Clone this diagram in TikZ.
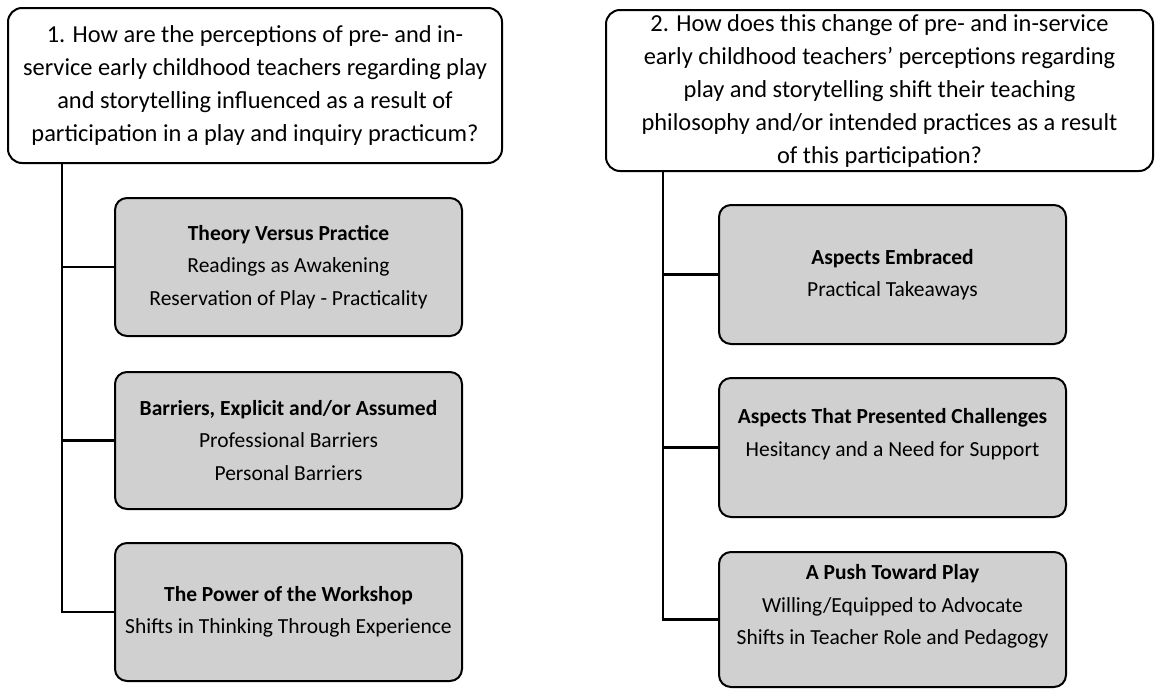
\documentclass[tikz,border=0pt]{standalone}
\usepackage{fontspec}
\setmainfont{Carlito}
\definecolor{boxgray}{RGB}{208,208,208}
\begin{document}
\begin{tikzpicture}[x=1pt,y=-1pt,
  qbox/.style={draw=black, line width=2pt, fill=white, rounded corners=14pt,
    align=center, inner sep=0pt, font=\fontsize{24.4}{33}\selectfont},
  tbox/.style={draw=black, line width=2pt, fill=boxgray, rounded corners=12pt,
    align=center, inner sep=0pt, minimum width=347pt, font=\fontsize{21.5}{32.5}\selectfont},
  conn/.style={draw=black, line width=2.2pt}]
\useasboundingbox (0,0) rectangle (1155,688);

\node[qbox, minimum width=494pt, minimum height=155pt] (q1) at (255,85.5)
  {1. How are the perceptions of pre- and in-\\
   service early childhood teachers regarding play\\
   and storytelling influenced as a result of\\
   participation in a play and inquiry practicum?};
\node[qbox, minimum width=547pt, minimum height=161pt] (q2) at (879.5,90.5)
  {2. How does this change of pre- and in-service\\
   early childhood teachers’ perceptions regarding\\
   play and storytelling shift their teaching\\
   philosophy and/or intended practices as a result\\
   of this participation?};

\node[tbox, minimum height=138pt] (a) at (288.5,267)
  {\textbf{Theory Versus Practice}\\ Readings as Awakening\\ Reservation of Play - Practicality};
\node[tbox, minimum height=137pt] (b) at (288.5,440.5)
  {\textbf{Barriers, Explicit and/or Assumed}\\ Professional Barriers\\ Personal Barriers};
\node[tbox, minimum height=138pt] (c) at (288.5,612)
  {\textbf{The Power of the Workshop}\\ Shifts in Thinking Through Experience};

\node[tbox, minimum height=139pt] (d) at (892.5,274.5)
  {\textbf{Aspects Embraced}\\ Practical Takeaways};
\node[tbox, minimum height=139pt] (e) at (892.5,447.5)
  {\textbf{Aspects That Presented Challenges}\\ Hesitancy and a Need for Support\\[-12pt] \strut};
\node[tbox, minimum height=135pt] (f) at (892.5,619.5)
  {\textbf{A Push Toward Play}\\ Willing/Equipped to Advocate\\ Shifts in Teacher Role and Pedagogy\\[-13pt] \strut};

\coordinate (L) at (62,0);
\coordinate (R) at (663,0);
\draw[conn] (L |- q1.south) |- (a.west);
\draw[conn] (L |- q1.south) |- (b.west);
\draw[conn] (L |- q1.south) |- (c.west);
\draw[conn] (R |- q2.south) |- (d.west);
\draw[conn] (R |- q2.south) |- (e.west);
\draw[conn] (R |- q2.south) |- (f.west);
\end{tikzpicture}
\end{document}
